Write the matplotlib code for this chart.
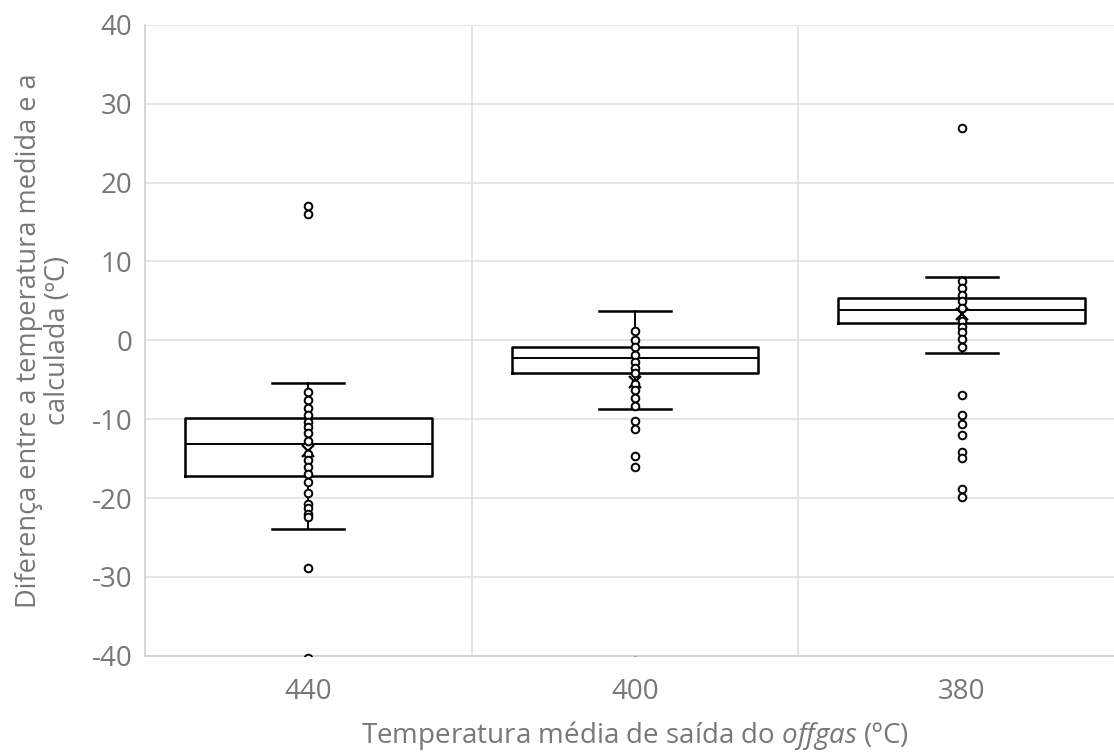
import matplotlib
matplotlib.use('Agg')
import matplotlib.pyplot as plt

plt.rcParams['font.family'] = ['Open Sans', 'DejaVu Sans']
plt.rcParams['mathtext.fontset'] = 'custom'
plt.rcParams['mathtext.rm'] = 'Open Sans'
plt.rcParams['mathtext.it'] = 'Open Sans:italic'
plt.rcParams['axes.unicode_minus'] = False

# categorias (temperatura media de saida do offgas)
categorias = ['440', '400', '380']

# estatisticas
q1 = [-17.15, -4.2, 2.2]
mediana = [-13.1, -2.25, 3.9]
q3 = [-9.85, -0.85, 5.4]
whis_lo = [-23.9, -8.7, -1.6]
whis_hi = [-5.45, 3.7, 8.0]
media = [-14.0, -5.3, 3.4]

# outliers
out_440 = [17.0, 16.0, -28.9, -40.3]
out_400 = [-10.2, -11.3, -14.6, -16.1, -40.6]
out_380 = [26.9, -6.9, -9.5, -10.6, -12.0, -14.1, -14.9, -18.9, -19.9]

# pontos internos
pts_440 = [-6.5, -7.6, -8.6, -9.5, -10.3, -11.0, -11.8, -12.7, -14.4, -15.2,
           -16.1, -17.0, -18.0, -19.4, -20.7, -21.3, -22.0, -22.4]
pts_400 = [1.2, 0.1, -0.9, -1.8, -2.7, -3.5, -4.2, -5.5, -6.3, -7.3, -8.3]
pts_380 = [7.5, 6.7, 5.8, 5.0, 4.1, 2.5, 1.7, 1.0, 0.2, -0.8]

outliers = [out_440, out_400, out_380]
pontos = [pts_440, pts_400, pts_380]

stats = []
for i in range(3):
    stats.append({'med': mediana[i], 'q1': q1[i], 'q3': q3[i],
                  'whislo': whis_lo[i], 'whishi': whis_hi[i],
                  'mean': media[i], 'fliers': outliers[i]})

cinza = '#777777'
fig = plt.figure(figsize=(11.14, 7.53), dpi=100)
ax = fig.add_axes([0.130, 0.129, 0.880, 0.838])

pos = [1, 2, 3]
ax.bxp(stats, positions=pos, widths=0.755, capwidths=0.22, showmeans=True,
       boxprops=dict(color='black', linewidth=1.8),
       medianprops=dict(color='black', linewidth=1.4),
       whiskerprops=dict(color='black', linewidth=1.4),
       capprops=dict(color='black', linewidth=1.8),
       meanprops=dict(marker='x', markeredgecolor='black', markersize=9,
                      markeredgewidth=1.6),
       flierprops=dict(marker='o', markerfacecolor='white',
                       markeredgecolor='black', markersize=5.5,
                       markeredgewidth=1.4),
       zorder=3)

for i in range(3):
    ax.plot([pos[i]] * len(pontos[i]), pontos[i], 'o', mfc='white', mec='black',
            ms=5.5, mew=1.4, zorder=4)

ax.set_xlim(0.5, 3.5)
ax.set_ylim(-40, 40)
ax.set_yticks(range(-40, 41, 10))
ax.set_xticks(pos)
ax.set_xticklabels(categorias)
ax.set_xticks([1.5, 2.5], minor=True)

ax.grid(axis='y', color='#e0e0e0', linewidth=1.2)
ax.grid(axis='x', which='minor', color='#e0e0e0', linewidth=1.2)
ax.set_axisbelow(True)
ax.tick_params(which='both', length=0, labelsize=20, colors=cinza)
ax.tick_params(axis='x', pad=16)
ax.tick_params(axis='y', pad=9)

for s in ['top', 'right']:
    ax.spines[s].set_visible(False)
for s in ['left', 'bottom']:
    ax.spines[s].set_color('#d0d0d0')
    ax.spines[s].set_linewidth(1.2)

ax.set_xlabel(r'Temperatura média de saída do $\mathit{offgas}$ (ºC)',
              fontsize=20, color=cinza, labelpad=9)
ax.set_ylabel('Diferença entre a temperatura medida e a\ncalculada (ºC)',
              fontsize=19.5, color=cinza, labelpad=14, linespacing=1.05)

fig.savefig('out.png', dpi=100)
